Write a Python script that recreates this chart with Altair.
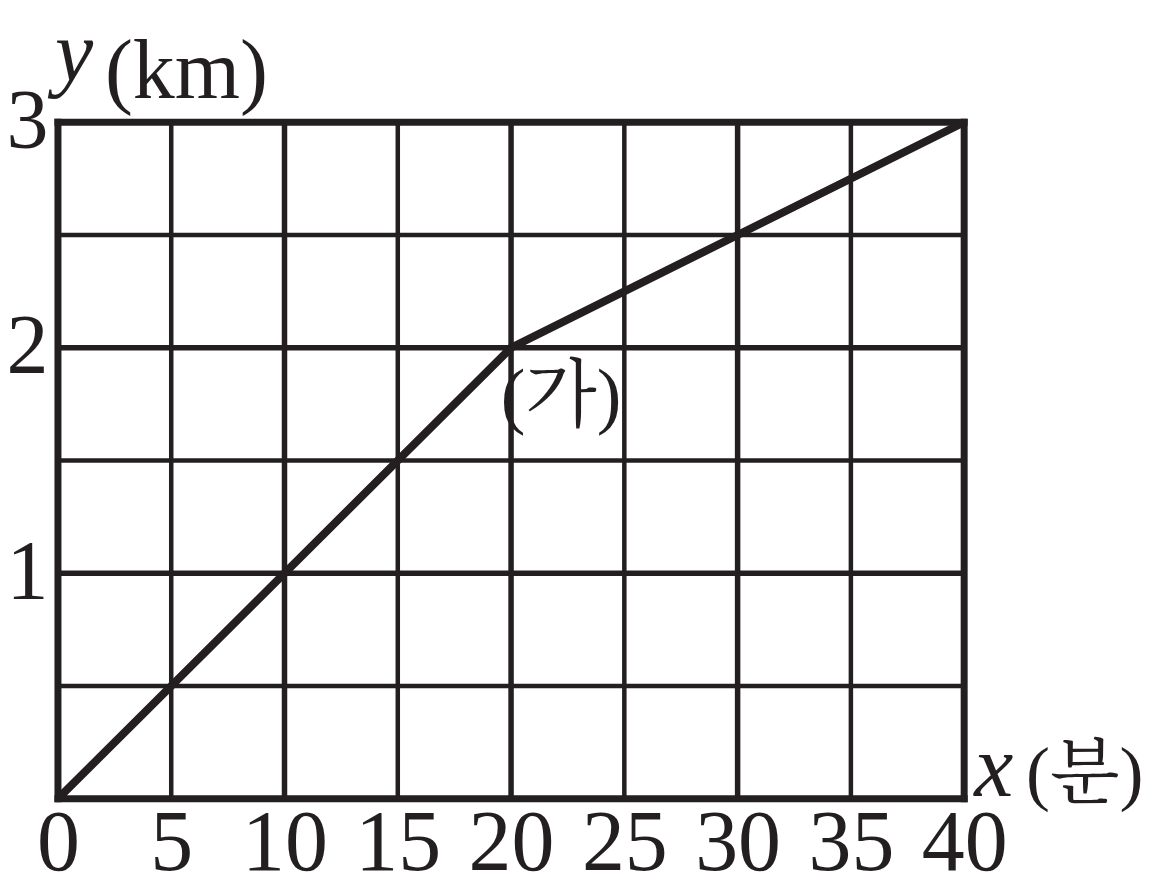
import altair as alt
import pandas as pd

# data
minutes = [0, 20, 40]
distance_km = [0, 2, 3]
x_grid = [5, 10, 15, 20, 25, 30, 35]
x_grid_major = [False, True, False, True, False, True, False]
y_grid = [0.5, 1, 1.5, 2, 2.5]
y_grid_major = [False, True, False, True, False]
x_frame = [0, 40]
y_frame = [0, 3]
x_ticks = [0, 5, 10, 15, 20, 25, 30, 35, 40]
y_ticks = [1, 2, 3]
point_label = "(가)"

INK = "#231f20"
SERIF = "Liberation Serif, Noto Serif CJK KR, Noto Sans CJK KR"

xscale = alt.Scale(domain=[0, 40], nice=False, zero=True)
yscale = alt.Scale(domain=[0, 3], nice=False, zero=True)
xaxis = alt.Axis(values=x_ticks, title=None, grid=False, domain=False, ticks=False,
                 labelFont=SERIF, labelFontSize=86, labelColor=INK,
                 labelBaseline="alphabetic", labelPadding=71, labelAngle=0,
                 labelFlush=False, labelOverlap=False)
yaxis = alt.Axis(values=y_ticks, title=None, grid=False, domain=False, ticks=False,
                 labelFont=SERIF, labelFontSize=84, labelColor=INK,
                 labelBaseline="middle", labelPadding=10, labelFlush=False,
                 labelOverlap=False)

line_df = pd.DataFrame({"x": minutes, "y": distance_km})
vgrid_df = pd.DataFrame({"x": x_grid, "w": [5.5 if m else 4.5 for m in x_grid_major]})
hgrid_df = pd.DataFrame({"y": y_grid, "w": [5.5 if m else 4.5 for m in y_grid_major]})
vframe_df = pd.DataFrame({"x": x_frame})
hframe_df = pd.DataFrame({"y": y_frame})

X = lambda f="x:Q": alt.X(f, scale=xscale, axis=xaxis)
Y = lambda f="y:Q": alt.Y(f, scale=yscale, axis=yaxis)

vgrid = alt.Chart(vgrid_df).mark_rule(color=INK).encode(
    x=X(), strokeWidth=alt.StrokeWidth("w:Q", scale=None))
hgrid = alt.Chart(hgrid_df).mark_rule(color=INK).encode(
    y=Y(), strokeWidth=alt.StrokeWidth("w:Q", scale=None))
vframe = alt.Chart(vframe_df).mark_rule(color=INK, strokeWidth=7, strokeCap="square").encode(x=X())
hframe = alt.Chart(hframe_df).mark_rule(color=INK, strokeWidth=7, strokeCap="square").encode(y=Y())

line = alt.Chart(line_df).mark_line(color=INK, strokeWidth=8, strokeCap="butt",
                                    strokeJoin="miter").encode(x=X(), y=Y())

def label(text, xv, yv, dx, dy, size=84, style="normal", align="left"):
    df = pd.DataFrame({"x": [xv], "y": [yv], "t": [text]})
    return alt.Chart(df).mark_text(
        font=SERIF, fontSize=size, fontStyle=style, color=INK, align=align,
        baseline="alphabetic", dx=dx, dy=dy
    ).encode(x=X(), y=Y(), text="t:N")

ylab1 = label("y", 0, 3, -3, -42, size=86, style="italic")
ylab2 = label("(km)", 0, 3, 47, -24)
xlab1 = label("x", 40, 0, 10, -3, size=88, style="italic")
xlab2 = label("(분)", 40, 0, 62, -2, size=72)
pt = label(point_label, 20, 2, 50, 72, size=74, align="center")

chart = alt.layer(
    vgrid, hgrid, line, vframe, hframe, ylab1, ylab2, xlab1, xlab2, pt
).properties(
    width=907, height=677,
    autosize=alt.AutoSizeParams(type="none"),
    padding={"left": 50, "top": 114, "right": 180, "bottom": 90},
    background="white"
).configure_view(stroke=None)

chart.save("out.html", embed_options={"renderer": "svg", "actions": False})
